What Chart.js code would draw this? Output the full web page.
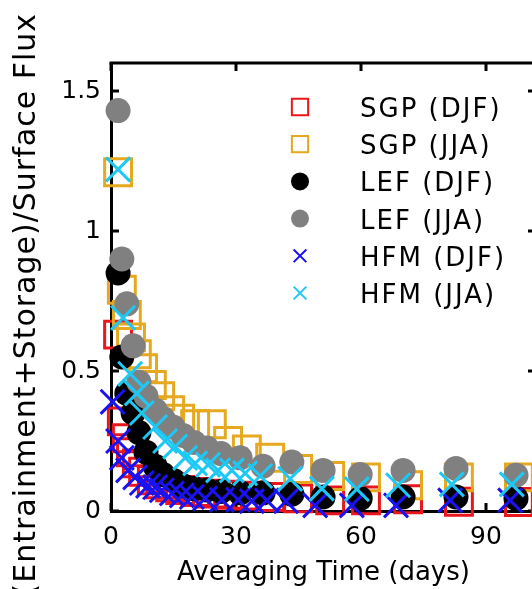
<!DOCTYPE html>
<html>
<head>
<meta charset="utf-8">
<script src="https://cdn.jsdelivr.net/npm/chart.js@4.4.0/dist/chart.umd.min.js"></script>
<style>
  html, body { margin: 0; padding: 0; background: #fff; overflow: hidden; }
  #wrap { width: 560px; height: 589px; }
</style>
</head>
<body>
<div id="wrap"><canvas id="fluxChart" width="560" height="589"></canvas></div>
<script>
// Averaging time (days) for each site
const sgpDays = [1.7, 2.6, 3.8, 4.8, 6.2, 7.7, 9.8, 11.8, 14.2, 16.6, 20.2, 24.2, 28.1, 32.6, 38.2, 44.9, 52.6, 61.2, 71.3, 83.5, 97.9];
const lefDays = [1.7, 2.6, 3.8, 5.3, 6.7, 8.4, 10.6, 12.5, 14.9, 17.3, 19.9, 23.0, 26.4, 31.0, 36.5, 43.4, 50.9, 59.8, 70.1, 82.8, 97.2];
const hfmDaysDJF = [0.4, 1.7, 2.6, 4.1, 5.8, 7.4, 8.9, 10.6, 12.2, 14.6, 17.0, 19.4, 22.6, 26.6, 30.5, 33.8, 37.4, 42.0, 49.0, 57.8, 68.4, 81.4, 95.8];
const hfmDaysJJA = [1.7, 2.9, 4.6, 6.2, 7.4, 10.6, 13.0, 15.4, 17.8, 20.2, 23.3, 25.7, 29.0, 32.2, 35.8, 43.0, 50.6, 59.0, 68.9, 81.8, 96.2];

// (Entrainment+Storage)/Surface Flux ratios
const sgpDJF = [0.63, 0.32, 0.26, 0.21, 0.17, 0.14, 0.11, 0.095, 0.085, 0.075, 0.068, 0.062, 0.058, 0.055, 0.05, 0.045, 0.038, 0.038, 0.042, 0.033, 0.032];
const sgpJJA = [1.21, 0.79, 0.70, 0.62, 0.56, 0.51, 0.45, 0.41, 0.36, 0.33, 0.31, 0.31, 0.25, 0.22, 0.19, 0.15, 0.125, 0.12, 0.092, 0.12, 0.12];
const lefDJF = [0.85, 0.55, 0.42, 0.35, 0.28, 0.21, 0.16, 0.13, 0.11, 0.09, 0.08, 0.075, 0.07, 0.065, 0.065, 0.06, 0.05, 0.045, 0.05, 0.05, 0.045];
const lefJJA = [1.43, 0.90, 0.74, 0.59, 0.46, 0.41, 0.36, 0.33, 0.30, 0.27, 0.245, 0.225, 0.205, 0.19, 0.16, 0.175, 0.145, 0.13, 0.145, 0.152, 0.128];
const hfmDJF = [0.39, 0.25, 0.19, 0.145, 0.12, 0.10, 0.09, 0.085, 0.074, 0.063, 0.056, 0.05, 0.045, 0.04, 0.04, 0.035, 0.038, 0.035, 0.02, 0.02, 0.02, 0.038, 0.038];
const hfmJJA = [1.22, 0.69, 0.49, 0.42, 0.35, 0.30, 0.25, 0.23, 0.19, 0.17, 0.165, 0.145, 0.145, 0.135, 0.125, 0.115, 0.08, 0.078, 0.092, 0.095, 0.095];

const seriesLabels = ['SGP (DJF)', 'SGP (JJA)', 'LEF (DJF)', 'LEF (JJA)', 'HFM (DJF)', 'HFM (JJA)'];
const xTicks = [0, 30, 60, 90];
const yTicks = [0, 0.5, 1, 1.5];

const FONT = '"DejaVu Sans", sans-serif';

function pts(xs, ys) {
    return xs.map(function(x, i) { return { x: x, y: ys[i] }; });
}

// marker looks: [style, colour, filled, radius in plot, radius in legend]
const markers = [
    ['rect', '#ea161c', false, 19, 11.5],
    ['rect', '#e6a81e', false, 19, 11.5],
    ['circle', '#000000', true, 12.5, 9],
    ['circle', '#808080', true, 12.5, 9],
    ['crossRot', '#1a12f0', false, 17, 9],
    ['crossRot', '#1ec8f5', false, 17, 9]
];
const xsList = [sgpDays, sgpDays, lefDays, lefDays, hfmDaysDJF, hfmDaysJJA];
const ysList = [sgpDJF, sgpJJA, lefDJF, lefJJA, hfmDJF, hfmJJA];

const datasets = seriesLabels.map(function(label, i) {
    const m = markers[i];
    return {
        label: label,
        data: pts(xsList[i], ysList[i]),
        pointStyle: m[0],
        pointRadius: m[3],
        pointHoverRadius: m[3],
        borderColor: m[1],
        backgroundColor: m[2] ? m[1] : 'rgba(0,0,0,0)',
        borderWidth: m[2] ? 0 : 3,
        legendRadius: m[4],
        showLine: false,
        clip: false,
        order: 5 - i   // later series on top, as in the original
    };
});

// frame on top/right + inward tick marks
const framePlugin = {
    id: 'frame',
    beforeDatasetsDraw: function(chart) {
        const ctx = chart.ctx;
        const a = chart.chartArea;
        const xs = chart.scales.x, ys = chart.scales.y;
        ctx.save();
        ctx.strokeStyle = '#000';
        ctx.lineWidth = 3;
        ctx.beginPath();
        ctx.moveTo(a.left - 1.5, a.top);
        ctx.lineTo(a.right, a.top);
        ctx.lineTo(a.right, a.bottom);
        ctx.stroke();
        ctx.beginPath();
        xTicks.forEach(function(v) {
            const px = Math.round(xs.getPixelForValue(v));
            ctx.moveTo(px, a.bottom);
            ctx.lineTo(px, a.bottom - 8);
            ctx.moveTo(px, a.top);
            ctx.lineTo(px, a.top + 8);
        });
        yTicks.forEach(function(v) {
            const py = Math.round(ys.getPixelForValue(v));
            ctx.moveTo(a.left, py);
            ctx.lineTo(a.left + 8, py);
            ctx.moveTo(a.right, py);
            ctx.lineTo(a.right - 8, py);
        });
        ctx.stroke();
        ctx.restore();
    }
};

function drawMarker(ctx, style, x, y, r) {
    ctx.beginPath();
    if (style === 'rect') {
        const s = r * Math.SQRT1_2;
        ctx.rect(x - s, y - s, 2 * s, 2 * s);
    } else if (style === 'circle') {
        ctx.arc(x, y, r, 0, Math.PI * 2);
    } else {
        const o = r * Math.SQRT1_2;
        ctx.moveTo(x - o, y - o); ctx.lineTo(x + o, y + o);
        ctx.moveTo(x + o, y - o); ctx.lineTo(x - o, y + o);
    }
}

// legend inside plot, small markers like matplotlib
const legendPlugin = {
    id: 'innerLegend',
    afterDatasetsDraw: function(chart) {
        const ctx = chart.ctx;
        const markX = 300, textX = 360, firstY = 107, rowH = 37.2;
        ctx.save();
        chart.data.datasets.forEach(function(ds, i) {
            const y = firstY + i * rowH;
            drawMarker(ctx, ds.pointStyle, markX, y, ds.legendRadius);
            if (ds.pointStyle === 'circle') {
                ctx.fillStyle = ds.borderColor;
                ctx.fill();
            } else {
                ctx.strokeStyle = ds.borderColor;
                ctx.lineWidth = 2;
                ctx.stroke();
            }
            ctx.fillStyle = '#000';
            ctx.font = '26px ' + FONT;
            ctx.letterSpacing = '2px';
            ctx.textAlign = 'left';
            ctx.textBaseline = 'alphabetic';
            ctx.fillText(ds.label, textX, y + 10);
        });
        ctx.restore();
    }
};

// rotated y axis title (runs off the bottom edge in the original)
const yTitlePlugin = {
    id: 'yTitle',
    afterDraw: function(chart) {
        const ctx = chart.ctx;
        ctx.save();
        ctx.translate(35, 13);
        ctx.rotate(-Math.PI / 2);
        ctx.font = '30px ' + FONT;
        ctx.letterSpacing = '1px';
        ctx.fillStyle = '#000';
        ctx.textAlign = 'right';
        ctx.textBaseline = 'alphabetic';
        ctx.fillText('(Entrainment+Storage)/Surface Flux', 0, 0);
        ctx.restore();
    }
};

const chart = new Chart(document.getElementById('fluxChart').getContext('2d'), {
    type: 'scatter',
    data: { datasets: datasets },
    options: {
        responsive: false,
        animation: false,
        events: [],
        layout: { padding: { top: 63, right: 24, left: 0, bottom: 0 } },
        plugins: { legend: { display: false }, tooltip: { enabled: false } },
        scales: {
            x: {
                type: 'linear',
                min: 0,
                max: 102,
                afterFit: function(s) { s.height = 78; },
                afterBuildTicks: function(s) { s.ticks = xTicks.map(function(v) { return { value: v }; }); },
                grid: { display: false, drawTicks: false },
                border: { display: true, color: '#000', width: 3 },
                ticks: {
                    color: '#000', font: { family: FONT, size: 25 }, padding: 11, maxRotation: 0,
                    callback: function(v) { return String(v); }
                },
                title: {
                    display: true,
                    text: 'Averaging Time (days)',
                    color: '#000',
                    font: { family: FONT, size: 26 },
                    padding: { top: 0, bottom: 0 }
                }
            },
            y: {
                type: 'linear',
                min: 0,
                max: 1.6,
                afterFit: function(s) { s.width = 111; },
                afterBuildTicks: function(s) { s.ticks = yTicks.map(function(v) { return { value: v }; }); },
                grid: { display: false, drawTicks: false },
                border: { display: true, color: '#000', width: 3 },
                ticks: {
                    color: '#000', font: { family: FONT, size: 25 }, padding: 10,
                    callback: function(v) { return String(v); }
                }
            }
        }
    },
    plugins: [framePlugin, legendPlugin, yTitlePlugin]
});
</script>
</body>
</html>
